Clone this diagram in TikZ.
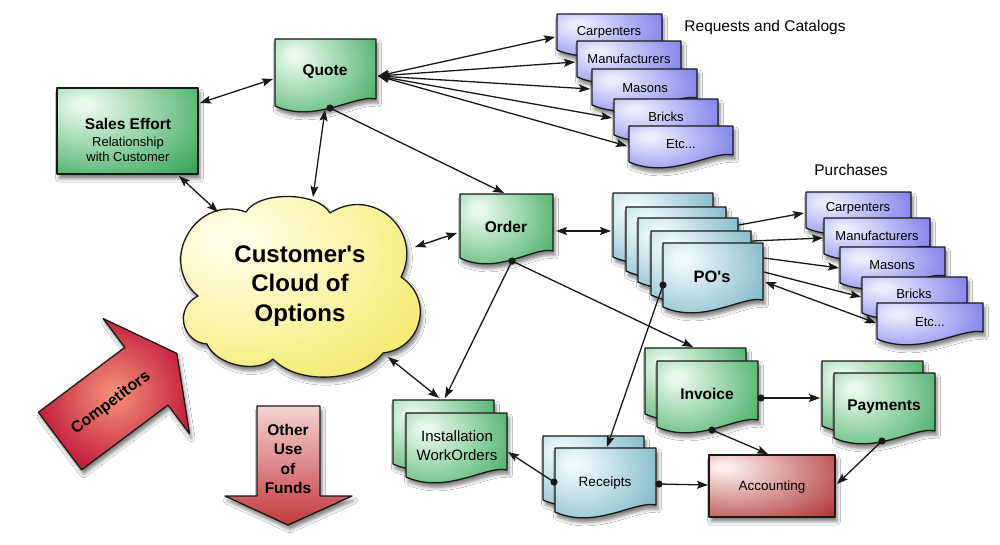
\documentclass[tikz,border=0pt]{standalone}
\usepackage{fontspec}
\setmainfont{Liberation Sans}
\usetikzlibrary{arrows.meta, shadows.blur}

\definecolor{gL}{RGB}{232,248,236}
\definecolor{gD}{RGB}{50,165,86}
\definecolor{pL}{RGB}{236,236,255}
\definecolor{pD}{RGB}{104,104,230}
\definecolor{tL}{RGB}{240,250,252}
\definecolor{tD}{RGB}{104,170,186}
\definecolor{yL}{RGB}{255,254,226}
\definecolor{yD}{RGB}{238,226,58}
\definecolor{aL}{RGB}{252,236,236}
\definecolor{aD}{RGB}{172,42,42}
\definecolor{compIn}{RGB}{245,148,122}
\definecolor{compOut}{RGB}{196,32,62}
\definecolor{ouT}{RGB}{244,212,212}
\definecolor{ouB}{RGB}{196,56,60}
\definecolor{lineC}{RGB}{25,25,25}

\pgfdeclareradialshading{greensh}{\pgfpoint{-16bp}{16bp}}{color(0bp)=(gL); color(3bp)=(gL); color(46bp)=(gD); color(100bp)=(gD)}
\pgfdeclareradialshading{purplesh}{\pgfpoint{-16bp}{16bp}}{color(0bp)=(pL); color(3bp)=(pL); color(46bp)=(pD); color(100bp)=(pD)}
\pgfdeclareradialshading{tealsh}{\pgfpoint{-16bp}{16bp}}{color(0bp)=(tL); color(3bp)=(tL); color(48bp)=(tD); color(100bp)=(tD)}
\pgfdeclareradialshading{yellowsh}{\pgfpoint{-12bp}{12bp}}{color(0bp)=(yL); color(4bp)=(yL); color(50bp)=(yD); color(100bp)=(yD)}
\pgfdeclareradialshading{accsh}{\pgfpoint{-20bp}{16bp}}{color(0bp)=(aL); color(3bp)=(aL); color(50bp)=(aD); color(100bp)=(aD)}

\tikzset{
  conn/.style={line width=1.3pt, draw=lineC},
  arr/.style={conn, -{Stealth[length=11pt,width=8pt,inset=2pt]}},
  darr/.style={conn, {Stealth[length=11pt,width=8pt,inset=2pt]}-{Stealth[length=11pt,width=8pt,inset=2pt]}},
  shapeline/.style={draw=lineC, line width=1.3pt, line join=round},
  shad/.style={blur shadow={shadow xshift=2pt, shadow yshift=-4.5pt, shadow blur radius=3.5pt, shadow opacity=50}},
  lbl/.style={inner sep=0pt, align=center, font=\fontsize{13}{15}\selectfont},
  blbl/.style={inner sep=0pt, align=center, font=\bfseries\fontsize{15.5}{19.3}\selectfont},
}

% document shape: style, x, y, width, left height
\newcommand\docshape[5]{\shadedraw[shapeline, shad, #1] (#2,#3) -- ({#2+#4},#3) -- ({#2+#4},{#3+#5-7}) .. controls ({#2+0.8*#4},{#3+#5-12}) and ({#2+0.4*#4},{#3+#5+18}) .. (#2,{#3+#5}) -- cycle;}
\newcommand\dotat[1]{\fill[lineC] (#1) circle (3.6);}

\begin{document}
\begin{tikzpicture}[x=1pt, y=-1pt]
\useasboundingbox (0,0) rectangle (1000,544);
\fill[white] (0,0) rectangle (1000,544);

% ---------- Sales Effort ----------
\shadedraw[shapeline, shad, shading=greensh] (57,88) rectangle (198,174);
\node[blbl] (sales) at (128,124) {Sales Effort};
\node[lbl] (salessub) at (128,149) {Relationship\\with Customer};

% ---------- Quote ----------
\docshape{shading=greensh}{275}{39}{101}{67}
\node[blbl] (quote) at (325,72) {Quote};

% ---------- Requests ----------
\docshape{shading=purplesh}{557}{14}{105}{36}
\docshape{shading=purplesh}{577}{41}{104}{36}
\docshape{shading=purplesh}{592}{69}{105}{36}
\docshape{shading=purplesh}{614}{99}{104}{36}
\docshape{shading=purplesh}{629}{126}{104}{36}
\node[lbl] (rqa) at (609,32) {Carpenters};
\node[lbl] (rqb) at (629,59) {Manufacturers};
\node[lbl] (rqc) at (645,88) {Masons};
\node[lbl] (rqd) at (666,117) {Bricks};
\node[lbl] (rqe) at (681,144) {Etc...};
\node[inner sep=0pt, font=\fontsize{15.5}{18}\selectfont] (reqlabel) at (765,27) {Requests and Catalogs};

% ---------- Cloud ----------
\shadedraw[shapeline, shad, shading=yellowsh]
  (198,296) to[bend left=80, looseness=1.42] (246,212)
  to[bend left=60, looseness=0.75] (330,213)
  to[bend left=75, looseness=1.37] (401,277)
  to[bend left=70, looseness=1.3] (383,353)
  to[bend left=50, looseness=0.85] (273,359)
  to[bend left=55, looseness=0.85] (207,344)
  to[bend left=75, looseness=1.37] (198,296) -- cycle;
\node[inner sep=0pt, align=center, font=\bfseries\fontsize{24}{29.5}\selectfont] (cloud) at (300,286) {Customer\textquotesingle s\\Cloud of\\Options};

% ---------- Order ----------
\docshape{shading=greensh}{460}{194}{93}{64}
\node[blbl] (order) at (506,227) {Order};

% ---------- PO's ----------
\docshape{shading=tealsh}{613}{193}{100}{64}
\docshape{shading=tealsh}{626}{207}{100}{64}
\docshape{shading=tealsh}{638}{218}{100}{64}
\docshape{shading=tealsh}{651}{231}{100}{64}
\docshape{shading=tealsh}{663}{243}{100}{64}
\node[blbl, font=\bfseries\fontsize{16.5}{19}\selectfont] (po) at (712,277) {PO\textquotesingle s};

% ---------- Purchases ----------
\node[inner sep=0pt, font=\fontsize{15.5}{18}\selectfont] (purlabel) at (851,170) {Purchases};
\docshape{shading=purplesh}{806}{192}{105}{36}
\docshape{shading=purplesh}{824}{218}{106}{36}
\docshape{shading=purplesh}{840}{247}{105}{36}
\docshape{shading=purplesh}{862}{277}{105}{36}
\docshape{shading=purplesh}{877}{303}{106}{36}
\node[lbl] (pua) at (858,208) {Carpenters};
\node[lbl] (pub) at (877,236) {Manufacturers};
\node[lbl] (puc) at (892,265) {Masons};
\node[lbl] (pud) at (914,294) {Bricks};
\node[lbl] (pue) at (930,322) {Etc...};

% ---------- Installation ----------
\docshape{shading=greensh}{393}{400}{101}{64}
\docshape{shading=greensh}{406}{413}{101}{64}
\node[inner sep=0pt, align=center, font=\fontsize{15}{19}\selectfont] (inst) at (457,446) {Installation\\WorkOrders};

% ---------- Receipts ----------
\docshape{shading=tealsh}{543}{436}{101}{64}
\docshape{shading=tealsh}{555}{448}{101}{64}
\node[lbl, font=\fontsize{13.5}{16}\selectfont] (rec) at (605,483) {Receipts};

% ---------- Invoice ----------
\docshape{shading=greensh}{645}{348}{101}{66}
\docshape{shading=greensh}{657}{361}{101}{66}
\node[blbl] (inv) at (707,394) {Invoice};

% ---------- Payments ----------
\docshape{shading=greensh}{822}{361}{101}{65}
\docshape{shading=greensh}{834}{373}{101}{65}
\node[blbl] (pay) at (884,407) {Payments};

% ---------- Accounting ----------
\shadedraw[shapeline, shad, shading=accsh] (709,455) rectangle (835,517);
\node[lbl, font=\fontsize{13.5}{16}\selectfont] (acc) at (772,487) {Accounting};

% ---------- Competitors ----------
\shadedraw[shapeline, shad, inner color=compIn, outer color=compOut]
  (38.4,412.2) -- (124.8,347.4) -- (103.2,318.6) -- (176.8,353.4) -- (189.6,433.8) -- (168,405) -- (81.6,469.8) -- cycle;
\node[blbl, rotate=37, font=\bfseries\fontsize{16}{19}\selectfont] (comp) at (111,403) {Competitors};

% ---------- Other Use of Funds ----------
\shadedraw[shapeline, shad, top color=ouT, bottom color=ouB]
  (257,406) -- (320,406) -- (320,496) -- (352,496) -- (288,525) -- (225,496) -- (257,496) -- cycle;
\node[blbl] (other) at (288,459) {Other\\Use\\of\\Funds};

% ---------- connector end points ----------
\coordinate (seR) at (200,103); \coordinate (quL) at (273,79);
\coordinate (seB) at (179,176); \coordinate (clTL) at (218,212);
\coordinate (quB) at (325,110); \coordinate (clT) at (313,197);
\coordinate (quR) at (378,76);
\coordinate (rq1) at (555,37); \coordinate (rq2) at (575,62); \coordinate (rq3) at (590,89);
\coordinate (rq4) at (612,118); \coordinate (rq5) at (627,146);
\coordinate (quD) at (330,108); \coordinate (orT) at (504,193);
\coordinate (clR) at (415,247); \coordinate (orL) at (457,233);
\coordinate (orR) at (556,231); \coordinate (poL) at (611,231);
\coordinate (orD) at (512,261); \coordinate (inT) at (445,398); \coordinate (ivT) at (693,347);
\coordinate (clB) at (388,357); \coordinate (inT2) at (439,398);
\coordinate (po1) at (739,225); \coordinate (pu1) at (804,213);
\coordinate (po2) at (752,241); \coordinate (pu2) at (823,238);
\coordinate (po3) at (764,258); \coordinate (pu3) at (839,268);
\coordinate (po4) at (764,272); \coordinate (pu4) at (861,297);
\coordinate (po5) at (765,282); \coordinate (pu5) at (876,323);
\coordinate (poD) at (663,285); \coordinate (reT) at (607,447);
\coordinate (reDL) at (554,482); \coordinate (inR) at (508,452);
\coordinate (reDR) at (659,484); \coordinate (acL) at (708,485);
\coordinate (ivDR) at (761,398); \coordinate (pyL) at (820,398);
\coordinate (ivDB) at (712,430); \coordinate (acT) at (768,454);
\coordinate (pyD) at (882,441); \coordinate (acR) at (837,484);

% ---------- connectors ----------
\draw[darr] (seR) -- (quL);
\draw[darr] (seB) -- (clTL);
\draw[darr] (quB) -- (clT);
\foreach \t in {rq1,rq2,rq3,rq4,rq5} { \draw[darr] (quR) -- (\t); }
\draw[arr] (quD) -- (orT);
\draw[darr] (clR) -- (orL);
\draw[darr] (orR) -- (poL);
\draw[arr] (orD) -- (inT);
\draw[arr] (orD) -- (ivT);
\draw[darr] (clB) -- (inT2);
\draw[arr] (po1) -- (pu1);
\draw[arr] (po2) -- (pu2);
\draw[arr] (po3) -- (pu3);
\draw[arr] (po4) -- (pu4);
\draw[darr] (po5) -- (pu5);
\draw[arr] (poD) -- (reT);
\draw[arr] (reDL) -- (inR);
\draw[arr] (reDR) -- (acL);
\draw[arr] (ivDR) -- (pyL);
\draw[arr] (ivDB) -- (acT);
\draw[arr] (pyD) -- (acR);

% dots
\dotat{quD} \dotat{orD} \dotat{poD} \dotat{reDL} \dotat{reDR} \dotat{ivDR} \dotat{ivDB} \dotat{pyD}
\end{tikzpicture}
\end{document}
